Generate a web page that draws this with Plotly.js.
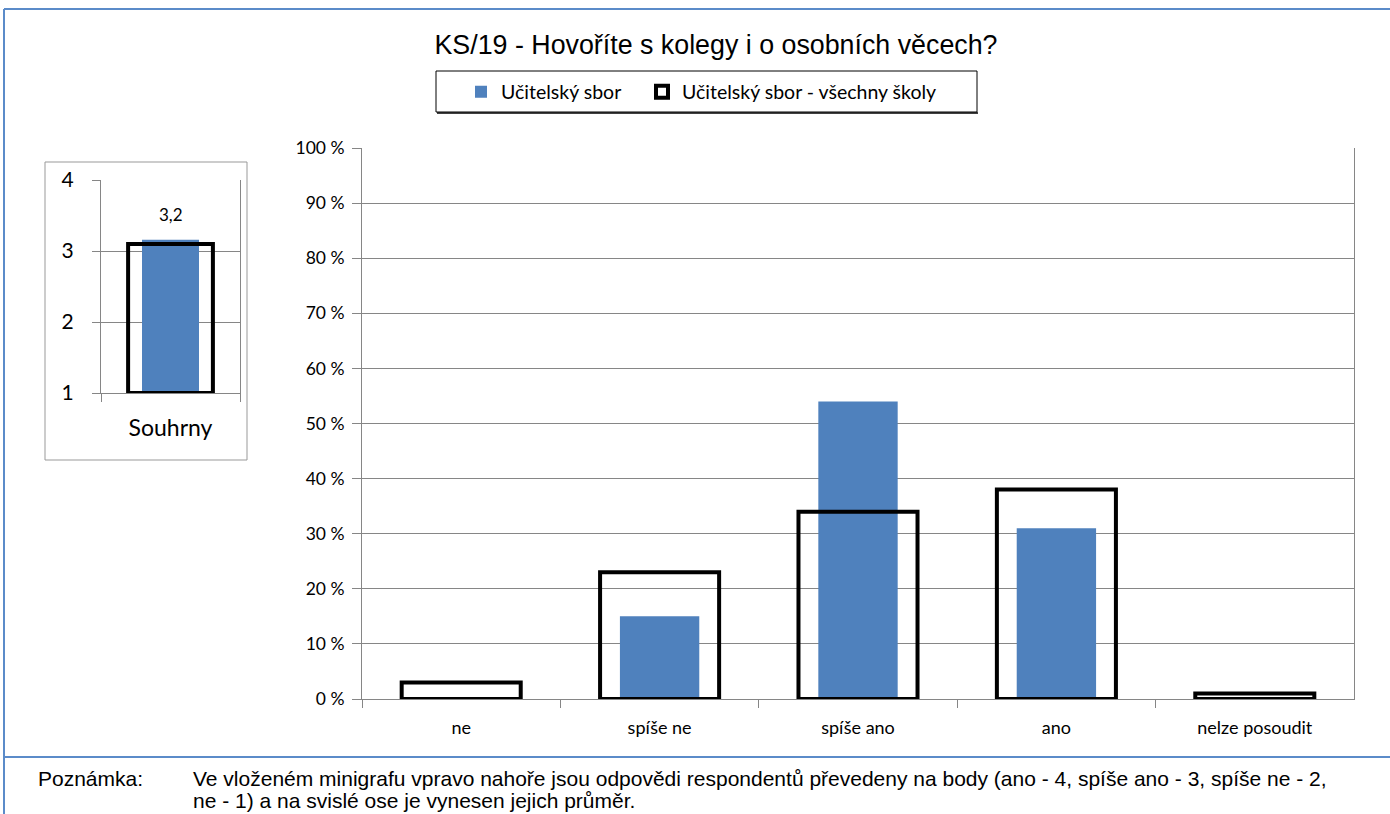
<!DOCTYPE html>
<html><head><meta charset="utf-8">
<script src="https://cdn.plot.ly/plotly-3.0.1.min.js"></script>
<style>html,body{margin:0;padding:0;background:#fff}#chart{width:1390px;height:814px}</style>
</head><body><div id="chart"></div>
<script>
const categories = ['ne', 'spíše ne', 'spíše ano', 'ano', 'nelze posoudit'];
const schoolValues = [0, 15, 54, 31, 0];
const allSchoolsValues = [3, 23, 34, 38, 1];
const summaryCategory = ['Souhrny'];
const summarySchool = [3.16];
const summaryAll = [3.1];
const yTicks = [0, 10, 20, 30, 40, 50, 60, 70, 80, 90, 100];
const yTickLabels = ['0 %', '10 %', '20 %', '30 %', '40 %', '50 %', '60 %', '70 %', '80 %', '90 %', '100 %'];
const insetTicks = [1, 2, 3, 4];
const seriesNames = ['Učitelský sbor', 'Učitelský sbor - všechny školy'];
const noteLabel = 'Poznámka:';
const noteLines = ['Ve vloženém minigrafu vpravo nahoře jsou odpovědi respondentů převedeny na body (ano - 4, spíše ano - 3, spíše ne - 2,',
                   'ne - 1) a na svislé ose je vynesen jejich průměr.'];

const W = 1390, H = 814;
const px = x => x / W, py = y => 1 - y / H;
const blue = '#4F81BD';
const grid = '#868686';
const calibri = 'Lato, "Open Sans", sans-serif';
const arial = '"Liberation Sans", Arial, sans-serif';

const traces = [
  {type:'bar', x:categories, y:schoolValues, name:seriesNames[0], width:0.4, legend:'legend',
   marker:{color:blue, line:{width:0}}, xaxis:'x', yaxis:'y', cliponaxis:false, hoverinfo:'x+y'},
  {type:'bar', x:categories, y:allSchoolsValues, name:seriesNames[1], width:0.6, legend:'legend2',
   marker:{color:'rgba(0,0,0,0)', line:{width:4, color:'#000'}}, xaxis:'x', yaxis:'y', cliponaxis:false, hoverinfo:'x+y'},
  {type:'bar', x:summaryCategory, y:summarySchool.map(v => v - 1), base:1, width:0.41, showlegend:false,
   marker:{color:blue, line:{width:0}}, xaxis:'x2', yaxis:'y2', cliponaxis:false, hoverinfo:'skip'},
  {type:'bar', x:summaryCategory, y:summaryAll.map(v => v - 1), base:1, width:0.61, showlegend:false,
   marker:{color:'rgba(0,0,0,0)', line:{width:4, color:'#000'}}, xaxis:'x2', yaxis:'y2', cliponaxis:false, hoverinfo:'skip'}
];

const legendStyle = {orientation:'h', xanchor:'left', y:py(92), yanchor:'middle', bgcolor:'rgba(0,0,0,0)',
                     font:{family:calibri, size:19.5, color:'#000'}, itemwidth:30};

const layout = {
  width:W, height:H, margin:{l:0,r:0,t:0,b:0}, paper_bgcolor:'#fff', plot_bgcolor:'rgba(0,0,0,0)',
  barmode:'overlay', showlegend:true,
  title:{text:'KS/19 - Hovoříte s kolegy i o osobních věcech?', x:px(716), xanchor:'center', y:py(45), yanchor:'middle',
         font:{family:arial, size:26.8, color:'#000'}},
  legend:Object.assign({}, legendStyle, {x:px(461)}),
  legend2:Object.assign({}, legendStyle, {x:px(642)}),
  xaxis:{domain:[px(362), px(1354)], anchor:'y', type:'category', tickson:'boundaries', ticks:'outside', ticklen:8, tickcolor:grid,
         showgrid:false, showline:true, linecolor:grid, linewidth:1, tickfont:{family:calibri, size:18, color:'#000'},
         ticklabelstandoff:12, fixedrange:true},
  yaxis:{domain:[py(699), py(148)], anchor:'x', range:[0,100], tickmode:'array', tickvals:yTicks, ticktext:yTickLabels,
         ticks:'outside', ticklen:9, tickcolor:grid, showgrid:true, gridcolor:grid, gridwidth:1, showline:true, linecolor:grid, mirror:true,
         zeroline:false, tickfont:{family:calibri, size:17.5, color:'#000'}, ticklabelstandoff:4, fixedrange:true},
  xaxis2:{domain:[px(101), px(240)], anchor:'y2', type:'category', tickson:'boundaries', ticks:'outside', ticklen:8, tickcolor:grid,
          showgrid:false, showline:true, linecolor:grid, tickfont:{family:calibri, size:23, color:'#000'}, ticklabelstandoff:14, fixedrange:true},
  yaxis2:{domain:[py(393), py(180)], anchor:'x2', range:[1,4], tickvals:insetTicks, ticks:'outside', ticklen:8, tickcolor:grid,
          showgrid:true, gridcolor:grid, showline:true, linecolor:grid, mirror:true, zeroline:false,
          tickfont:{family:calibri, size:21, color:'#000'}, ticklabelstandoff:14, fixedrange:true},
  shapes:[
    {type:'line', xref:'paper', yref:'paper', x0:px(4), x1:1, y0:py(9), y1:py(9), line:{color:'#5B8BC9', width:2}},
    {type:'line', xref:'paper', yref:'paper', x0:px(4), x1:px(4), y0:py(9), y1:0, line:{color:'#5B8BC9', width:2}},
    {type:'line', xref:'paper', yref:'paper', x0:px(4), x1:1, y0:py(757), y1:py(757), line:{color:'#5B8BC9', width:2}},
    {type:'rect', xref:'paper', yref:'paper', x0:px(436), x1:px(977), y0:py(71), y1:py(112), line:{color:'#000', width:1}},
    {type:'line', xref:'paper', yref:'paper', x0:px(437), x1:px(978), y0:py(113), y1:py(113), line:{color:'#000', width:1.5}},
    {type:'rect', xref:'paper', yref:'paper', x0:px(45), x1:px(247), y0:py(162), y1:py(460), line:{color:'#999', width:1}}
  ],
  annotations:[
    {xref:'x2', yref:'y2', x:summaryCategory[0], y:summarySchool[0], text:summarySchool[0].toFixed(1).replace('.', ','),
     showarrow:false, yanchor:'bottom', yshift:13, font:{family:calibri, size:17, color:'#000'}},
    {xref:'paper', yref:'paper', x:px(36), y:py(778), xanchor:'left', yanchor:'middle', showarrow:false, text:noteLabel,
     font:{family:arial, size:21, color:'#000'}},
    {xref:'paper', yref:'paper', x:px(191), y:py(778), xanchor:'left', yanchor:'middle', showarrow:false, text:noteLines[0],
     font:{family:arial, size:21, color:'#000'}},
    {xref:'paper', yref:'paper', x:px(191), y:py(800), xanchor:'left', yanchor:'middle', showarrow:false, text:noteLines[1],
     font:{family:arial, size:21, color:'#000'}}
  ]
};

Plotly.newPlot('chart', traces, layout, {displayModeBar:false, staticPlot:true});
</script></body></html>
